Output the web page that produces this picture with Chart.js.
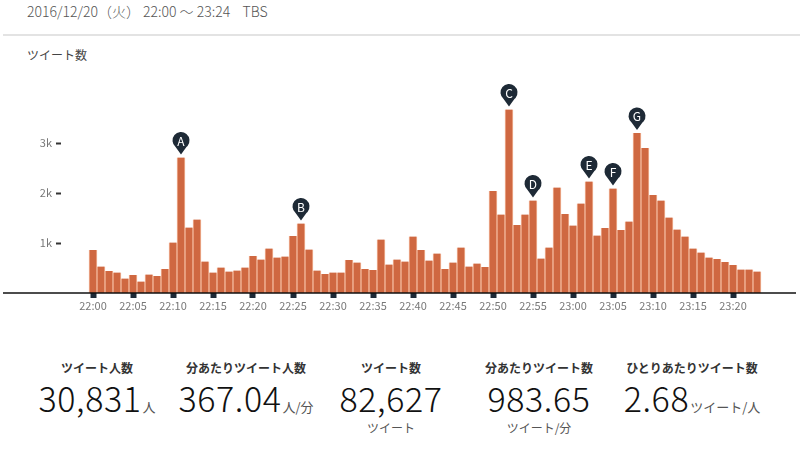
<!DOCTYPE html>
<html>
<head>
<meta charset="utf-8">
<script src="https://cdn.jsdelivr.net/npm/chart.js@4.4.0/dist/chart.umd.min.js"></script>
<style>
    body { margin: 0; width: 800px; height: 450px; background: #fff; position: relative; overflow: hidden;
           font-family: "Noto Sans CJK JP", sans-serif; color: #222; }
    .abs { position: absolute; white-space: nowrap; }
    #header { left: 27px; top: 2px; font-size: 14px; color: #555; line-height: 18px; font-weight: 300; }
    #rule { left: 3px; top: 34px; width: 797px; height: 2px; background: #e3e3e3; }
    #yTitle { left: 27px; top: 46px; font-size: 12px; color: #444; line-height: 18px; }
    #chartBox { left: 0; top: 70px; width: 800px; height: 260px; }
    .stat { position: absolute; width: 220px; text-align: center; white-space: nowrap; }
    .stat .label { position: absolute; left: 0; right: 0; top: 359px; font-size: 12px; font-weight: bold; color: #333; line-height: 18px; }
    .stat .value { position: absolute; left: 0; right: 0; top: 381px; font-size: 34px; line-height: 1; color: #111;
                   font-weight: 300; letter-spacing: 0.6px; }
    .stat .unit { font-size: 13px; color: #555; margin-left: 1px; letter-spacing: 0; font-weight: 400; }
    .stat .sub { position: absolute; left: 0; right: 0; top: 419px; font-size: 12px; color: #555; line-height: 18px; }
</style>
</head>
<body>
<div id="header" class="abs">2016/12/20（火）&nbsp;22:00 〜 23:24 &nbsp;&nbsp;&nbsp;TBS</div>
<div id="rule" class="abs"></div>
<div id="yTitle" class="abs">ツイート数</div>
<div id="chartBox" class="abs"><canvas id="tweetChart" width="800" height="260"></canvas></div>
<div id="stats"></div>

<script>
// tweets per minute, 22:00 .. 23:23
const tweetCounts = [
    860, 530, 440, 410, 290, 360, 230, 370, 340, 480,
    1010, 2710, 1310, 1470, 630, 410, 510, 430, 450, 510,
    740, 670, 890, 710, 730, 1140, 1390, 870, 450, 380,
    410, 410, 660, 610, 480, 460, 1070, 570, 670, 630,
    1130, 860, 650, 790, 480, 610, 910, 530, 590, 520,
    2040, 1570, 3670, 1360, 1570, 1850, 690, 910, 2110, 1580,
    1350, 1790, 2230, 1150, 1300, 2090, 1260, 1430, 3200, 2900,
    1960, 1850, 1510, 1270, 1130, 890, 810, 710, 680, 620,
    560, 470, 470, 430
];

const tickMinutes = [0, 5, 10, 15, 20, 25, 30, 35, 40, 45, 50, 55, 60, 65, 70, 75, 80];
const tickLabels = ['22:00', '22:05', '22:10', '22:15', '22:20', '22:25', '22:30', '22:35', '22:40',
                    '22:45', '22:50', '22:55', '23:00', '23:05', '23:10', '23:15', '23:20'];
const yTicks = [1000, 2000, 3000];

// pins above peaks
const markerLetters = ['A', 'B', 'C', 'D', 'E', 'F', 'G'];
const markerMinutes = [11, 26, 52, 55, 62, 65, 68];

// summary figures under the chart
const statLabels = ['ツイート人数', '分あたりツイート人数', 'ツイート数', '分あたりツイート数', 'ひとりあたりツイート数'];
const statValues = ['30,831', '367.04', '82,627', '983.65', '2.68'];
const statUnits = ['人', '人/分', '', '', 'ツイート/人'];
const statSubs = ['', '', 'ツイート', 'ツイート/分', ''];
const statCenters = [97, 246, 391, 539, 692];

// stats block
const stats = document.getElementById('stats');
let html = '';
statLabels.forEach((label, i) => {
    html += `
        <div class="stat" style="left:${statCenters[i] - 110}px;top:0">
            <div class="label">${label}</div>
            <div class="value">${statValues[i]}${statUnits[i] ? `<span class="unit">${statUnits[i]}</span>` : ''}</div>
            ${statSubs[i] ? `<div class="sub">${statSubs[i]}</div>` : ''}
        </div>`;
});
stats.innerHTML = html;

// baseline across the whole width + the lettered pins
const extrasPlugin = {
    id: 'extras',
    afterDatasetsDraw(chart) {
        const ctx = chart.ctx;
        const xs = chart.scales.x;
        const ys = chart.scales.y;
        const base = ys.getPixelForValue(0);

        ctx.save();
        ctx.strokeStyle = '#111';
        ctx.lineWidth = 1.5;
        ctx.beginPath();
        ctx.moveTo(3, base);
        ctx.lineTo(796, base);
        ctx.stroke();

        markerMinutes.forEach((m, i) => {
            const x = xs.getPixelForValue(m);
            const top = ys.getPixelForValue(tweetCounts[m]);
            const tip = top - 3;
            const cy = top - 17;
            const r = 8.5;
            ctx.fillStyle = '#1e2a36';
            ctx.beginPath();
            ctx.arc(x, cy, r, Math.PI * 0.72, Math.PI * 0.28, false);
            ctx.lineTo(x, tip);
            ctx.closePath();
            ctx.fill();
            ctx.fillStyle = '#fff';
            ctx.font = '12px "Noto Sans CJK JP", sans-serif';
            ctx.textAlign = 'center';
            ctx.textBaseline = 'middle';
            ctx.fillText(markerLetters[i], x, cy + 0.5);
        });
        ctx.restore();
    }
};

const myChart = new Chart(document.getElementById('tweetChart').getContext('2d'), {
    type: 'bar',
    data: {
        datasets: [{
            data: tweetCounts.map((v, i) => ({ x: i, y: v })),
            backgroundColor: '#cf6841',
            borderColor: '#f4b99c',
            borderWidth: { left: 1, right: 1, top: 0, bottom: 0 },
            borderSkipped: false,
            barPercentage: 1,
            categoryPercentage: 1
        }]
    },
    options: {
        responsive: false,
        animation: false,
        devicePixelRatio: 1,
        layout: { padding: { top: 23, right: 5, left: 0, bottom: 0 } },
        plugins: { legend: { display: false }, tooltip: { enabled: false } },
        scales: {
            x: {
                type: 'linear',
                min: -4,
                max: 87.75,
                offset: false,
                afterBuildTicks: scale => { scale.ticks = tickMinutes.map(v => ({ value: v })); },
                afterFit: scale => { scale.height = 37; },
                border: { display: false },
                grid: { offset: false, drawOnChartArea: false, drawTicks: true, tickLength: 5, tickWidth: 6, tickColor: '#1e2a36' },
                ticks: {
                    autoSkip: false,
                    maxRotation: 0,
                    padding: 1,
                    color: '#777',
                    font: { size: 11, family: '"Noto Sans CJK JP", sans-serif' },
                    callback: v => tickLabels[tickMinutes.indexOf(v)] || ''
                }
            },
            y: {
                min: 0,
                max: 4000,
                afterBuildTicks: scale => { scale.ticks = yTicks.map(v => ({ value: v })); },
                afterFit: scale => { scale.width = 61; },
                border: { display: false },
                grid: { drawOnChartArea: false, drawTicks: true, tickLength: 5, tickWidth: 2, tickColor: '#333' },
                ticks: {
                    padding: 4,
                    color: '#777',
                    font: { size: 11, family: '"Noto Sans CJK JP", sans-serif' },
                    callback: v => (v / 1000) + 'k'
                }
            }
        }
    },
    plugins: [extrasPlugin]
});
</script>
</body>
</html>
